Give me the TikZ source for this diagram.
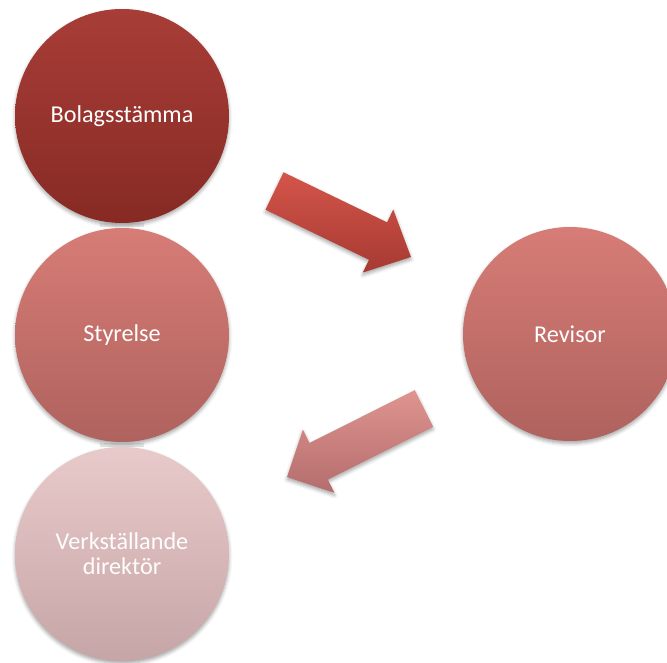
\documentclass[tikz,border=0pt]{standalone}
\usepackage{fontspec}
\setmainfont{Carlito}
\usetikzlibrary{shadows.blur}
\definecolor{c1top}{HTML}{A83D37}
\definecolor{c1bot}{HTML}{872A24}
\definecolor{c2top}{HTML}{D77C76}
\definecolor{c2bot}{HTML}{AF625E}
\definecolor{c3top}{HTML}{E9CACA}
\definecolor{c3bot}{HTML}{C6A5A6}
\definecolor{a1top}{HTML}{D4554A}
\definecolor{a1bot}{HTML}{A63A32}
\definecolor{a2top}{HTML}{DF948F}
\definecolor{a2bot}{HTML}{B46D6D}
\tikzset{
  circ/.style={circle, minimum size=214pt, inner sep=0pt, text=white, align=center,
    font=\fontsize{24.2}{28}\selectfont,
    blur shadow={shadow xshift=0pt, shadow yshift=-2.5pt, shadow blur radius=3.5pt, shadow opacity=35}},
  blockarrow/.style={blur shadow={shadow xshift=0pt, shadow yshift=-2.5pt, shadow blur radius=3.5pt, shadow opacity=35}},
  refl/.style={fill=gray, opacity=0.18}
}
\begin{document}
\begin{tikzpicture}[x=1pt, y=-1pt]
\useasboundingbox (0,0) rectangle (667,663);
% reflection strips between circles
\fill[refl] (100,223.5) rectangle (144,227.5);
\fill[refl] (100,442.5) rectangle (144,446.5);
\node[circ, top color=c1top, bottom color=c1bot] (bol) at (122,116) {Bolagsstämma};
\node[circ, top color=c2top, bottom color=c2bot] (sty) at (122,335) {Styrelse};
\node[circ, top color=c3top, bottom color=c3bot, text=white!97!c3top] (vd) at (122,554) {Verkställande\\[-3pt]direktör};
\node[circ, top color=c2top, bottom color=c2bot] (rev) at (570,334) {Revisor};
% arrow Bolagsstämma -> Revisor
\begin{scope}[shift={(274.5,191)}, rotate=-25.8]
\path[blockarrow, top color=a1top, bottom color=a1bot]
  (0,-20.8) -- (115,-20.8) -- (115,-35) -- (151.6,0) -- (115,35) -- (115,20.8) -- (0,20.8) -- cycle;
\end{scope}
% arrow Revisor -> Styrelse
\begin{scope}[shift={(424,408.5)}, rotate=-153.4]
\path[blockarrow, top color=a2top, bottom color=a2bot]
  (0,-20.5) -- (117.8,-20.5) -- (117.8,-35.3) -- (153.2,0) -- (117.8,35.3) -- (117.8,20.5) -- (0,20.5) -- cycle;
\end{scope}
\end{tikzpicture}
\end{document}
